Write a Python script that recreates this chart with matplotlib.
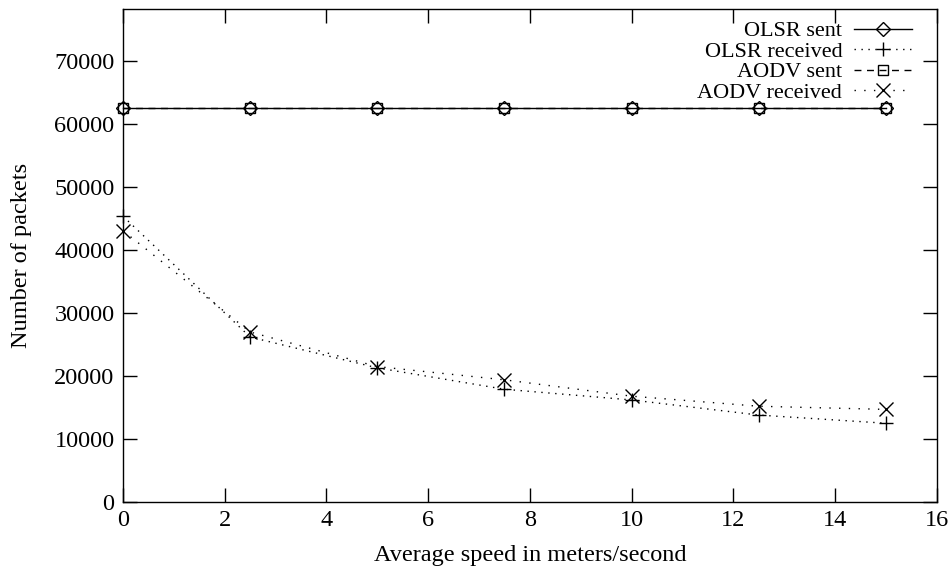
import matplotlib
matplotlib.use('Agg')
import matplotlib.pyplot as plt

# data
speed = [0, 2.5, 5, 7.5, 10, 12.5, 15]
olsr_sent = [62600, 62600, 62600, 62600, 62600, 62600, 62600]
olsr_received = [45400, 26200, 21300, 17900, 16200, 13800, 12500]
aodv_sent = [62600, 62600, 62600, 62600, 62600, 62600, 62600]
aodv_received = [43100, 27000, 21500, 19400, 16800, 15200, 14700]

x_ticks = [0, 2, 4, 6, 8, 10, 12, 14, 16]
y_ticks = [0, 10000, 20000, 30000, 40000, 50000, 60000, 70000]

plt.rcParams['font.family'] = ['Liberation Serif', 'DejaVu Serif']
plt.rcParams['font.size'] = 17.5

fig = plt.figure(figsize=(9.53, 5.71), dpi=100)
ax = fig.add_axes([0.129, 0.121, 0.854, 0.863])

ax.plot(speed, olsr_sent, color='black', lw=1.0, linestyle='-',
        marker='D', markersize=7, markerfacecolor='none', markeredgewidth=1.0,
        label='OLSR sent', clip_on=False)
ax.plot(speed, olsr_received, color='black', lw=1.0, linestyle=(0, (1, 4)),
        marker='+', markersize=9.5, markeredgewidth=1.0, label='OLSR received',
        clip_on=False)
ax.plot(speed, aodv_sent, color='black', lw=1.0, linestyle=(0, (5, 4)),
        marker='s', markersize=7, markerfacecolor='none', markeredgewidth=1.0,
        label='AODV sent', clip_on=False)
ax.plot(speed, aodv_received, color='black', lw=1.0, linestyle=(0, (1, 6)),
        marker='x', markersize=9.5, markeredgewidth=1.0, label='AODV received',
        clip_on=False)

ax.set_xlim(0, 16)
ax.set_ylim(0, 78300)
ax.set_xticks(x_ticks)
ax.set_yticks(y_ticks)
ax.tick_params(direction='in', length=10, width=1, top=True, right=True, pad=6)
for s in ax.spines.values():
    s.set_linewidth(1.0)

ax.set_xlabel('Average speed in meters/second', labelpad=10)
ax.set_ylabel('Number of packets', labelpad=16)

leg = ax.legend(loc='upper right', bbox_to_anchor=(0.978, 0.99), frameon=False,
                markerfirst=False, handlelength=2.6, handletextpad=0.55,
                labelspacing=0.0, borderaxespad=0.0, borderpad=0.3,
                fontsize=16)

fig.savefig('out.png', dpi=100)
